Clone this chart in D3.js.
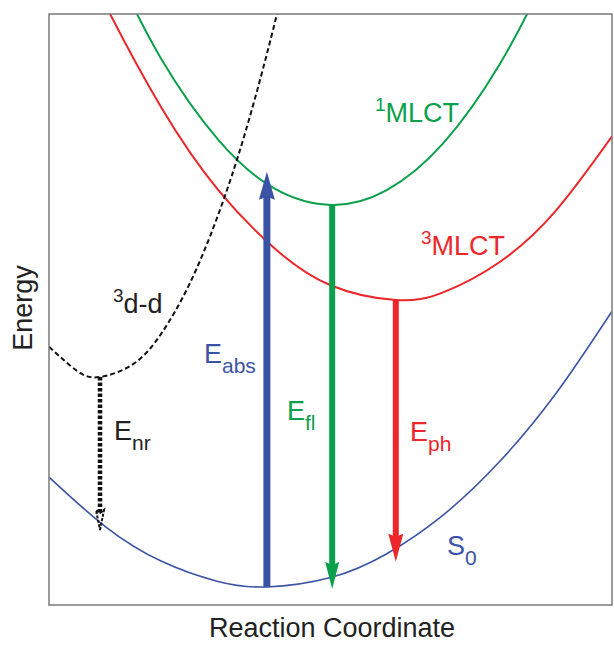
<!DOCTYPE html>
<html>
<head>
<meta charset="utf-8">
<script src="https://cdn.jsdelivr.net/npm/d3@7"></script>
<style>
  body { margin: 0; background: #fff; }
  svg { display: block; font-family: "Liberation Sans", Arial, sans-serif; }
</style>
</head>
<body>
<figure id="chart" style="margin:0"></figure>
<script>
// potential energy curves, [reaction coordinate, energy]
const groundS0 = [[0, 21.65], [10, 13.28], [20, 7.39], [30, 3.99], [38.7, 3.05], [50, 4.64],
  [60, 8.68], [70, 15.21], [80, 24.23], [90, 35.73], [100, 49.71]];
const singletMLCT = [[12, 107.0], [20, 92.3], [30, 78.8], [40, 70.5], [50.3, 67.7],
  [60, 70.2], [70, 78.1], [80, 91.4], [88, 105.8]];
const tripletMLCT = [[5, 111.7], [10, 101.6], [20, 84.1], [30, 70.3], [40, 60.4], [50, 54.1],
  [61.6, 51.6], [70, 52.9], [80, 58.0], [90, 66.7], [100, 79.3]];
const tripletDD = [[0, 43.7], [5, 39.6], [9.06, 38.58], [15, 40.8], [20, 46.0], [25, 54.4],
  [30, 65.9], [35, 80.4], [40, 98.1], [43, 110.3]];

// vertical transitions
const transitionNames = ["abs", "fl", "ph", "nr"];
const transitionX = [38.7, 50.3, 61.6, 9.06];
const transitionFrom = [3.05, 67.7, 51.6, 38.58];
const transitionTo = [73.3, 2.7, 7.3, 12.7];

const width = 614, height = 646;
const blue = "#3a53a4", green = "#0ba04b", red = "#ec2629";

const svg = d3.select("figure#chart")
  .append("svg")
  .attr("width", width)
  .attr("height", height);

const x = d3.scaleLinear().domain([0, 100]).range([49, 612]);
const y = d3.scaleLinear().domain([0, 100]).range([605, 14]);

svg.append("clipPath").attr("id", "plot")
  .append("rect")
  .attr("x", x(0)).attr("y", y(100))
  .attr("width", x(100) - x(0)).attr("height", y(0) - y(100));

const line = d3.line()
  .x(d => x(d[0]))
  .y(d => y(d[1]))
  .curve(d3.curveNatural);

const plot = svg.append("g").attr("clip-path", "url(#plot)");

const curves = [
  { pts: groundS0, color: blue, w: 1.6, dash: null },
  { pts: tripletMLCT, color: red, w: 2, dash: null },
  { pts: singletMLCT, color: green, w: 2, dash: null },
  { pts: tripletDD, color: "#111", w: 2, dash: "5,3" }
];

plot.selectAll("path.curve")
  .data(curves)
  .enter()
  .append("path")
  .attr("class", "curve")
  .attr("d", d => line(d.pts))
  .attr("fill", "none")
  .attr("stroke", d => d.color)
  .attr("stroke-width", d => d.w)
  .attr("stroke-dasharray", d => d.dash);

// arrows
const arrowStyle = {
  abs: { color: blue, w: 7, hw: 16, hl: 28 },
  fl: { color: green, w: 6, hw: 14, hl: 27 },
  ph: { color: red, w: 6, hw: 15, hl: 28 },
  nr: { color: "#111", w: 4.5, hw: 8, hl: 20 }
};

transitionNames.forEach((name, i) => {
  const s = arrowStyle[name];
  const px = x(transitionX[i]);
  const y0 = y(transitionFrom[i]);
  const y1 = y(transitionTo[i]);
  const dir = y1 > y0 ? 1 : -1;
  const base = y1 - dir * s.hl;
  const dotted = name === "nr";

  svg.append("line")
    .attr("x1", px).attr("x2", px)
    .attr("y1", y0).attr("y2", base + dir * 4)
    .attr("stroke", s.color)
    .attr("stroke-width", s.w)
    .attr("stroke-dasharray", dotted ? "3.5,2" : null);

  const head = svg.append("path")
    .attr("d", `M${px},${y1} L${px + s.hw / 2},${base} L${px},${base + dir * 3} L${px - s.hw / 2},${base} Z`);
  if (dotted) {
    head.attr("fill", "none").attr("stroke", s.color).attr("stroke-width", 2).attr("stroke-dasharray", "3,1.5");
  } else {
    head.attr("fill", s.color);
  }
});

// frame
svg.append("rect")
  .attr("x", x(0)).attr("y", y(100))
  .attr("width", x(100) - x(0)).attr("height", y(0) - y(100))
  .attr("fill", "none")
  .attr("stroke", "#7a7a7a")
  .attr("stroke-width", 1.5);

// labels
function label(px, py, color, main, sub, sup) {
  const t = svg.append("text")
    .attr("x", px).attr("y", py)
    .attr("fill", color)
    .attr("font-size", 27);
  if (sup) {
    t.append("tspan").text(sup).attr("font-size", 19).attr("dy", -11);
    t.append("tspan").text(main).attr("dy", 11);
  } else {
    t.append("tspan").text(main);
  }
  if (sub) t.append("tspan").text(sub).attr("font-size", 21).attr("dy", 10);
  return t;
}

label(204, 363, blue, "E", "abs");
label(287, 420, green, "E", "fl");
label(410, 441, red, "E", "ph");
label(114, 440, "#222", "E", "nr");
label(447, 555, blue, "S", "0");
label(113, 313, "#222", "d-d", null, "3");
label(375, 122, green, "MLCT", null, "1");
label(421, 255, red, "MLCT", null, "3");

svg.append("text")
  .attr("x", 332).attr("y", 637)
  .attr("text-anchor", "middle")
  .attr("font-size", 27)
  .attr("fill", "#222")
  .text("Reaction Coordinate");

svg.append("text")
  .attr("transform", "translate(32,308) rotate(-90)")
  .attr("text-anchor", "middle")
  .attr("font-size", 27)
  .attr("fill", "#222")
  .text("Energy");
</script>
</body>
</html>
